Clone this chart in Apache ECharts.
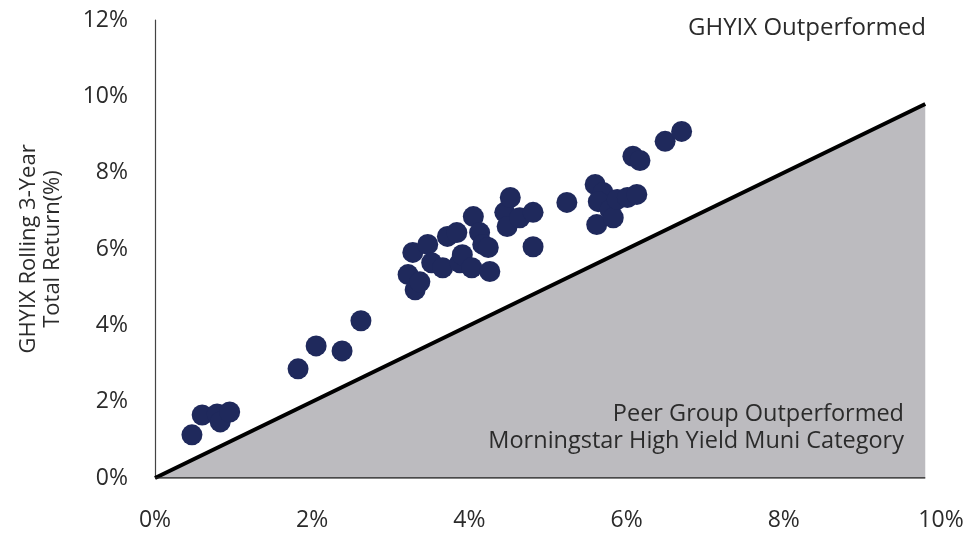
<!DOCTYPE html>
<html>
<head>
<meta charset="utf-8">
<script src="https://cdn.jsdelivr.net/npm/echarts@6/dist/echarts.min.js"></script>
<style>
  html, body { margin: 0; padding: 0; background: #ffffff; }
  #chart { width: 968px; height: 534px; }
</style>
</head>
<body>
<div id="chart"></div>
<script>
// Rolling 3-year total returns (%): peer group category (x) vs GHYIX (y)
const categoryReturns = [
  0.47, 0.60, 0.79, 0.83, 0.95,
  1.82, 2.05, 2.38, 2.62,
  3.22, 3.31, 3.37, 3.28, 3.47, 3.52, 3.66, 3.72, 3.84, 3.88, 3.91, 4.03,
  4.05, 4.13, 4.17, 4.24, 4.26, 4.45, 4.48, 4.52, 4.64, 4.81, 4.81,
  5.24, 5.60, 5.70, 5.64, 5.62, 5.79, 5.83, 5.88, 6.01, 6.13,
  6.08, 6.17, 6.49, 6.70
];
const fundReturns = [
  1.13, 1.65, 1.68, 1.47, 1.73,
  2.86, 3.46, 3.33, 4.12,
  5.33, 4.93, 5.14, 5.91, 6.12, 5.64, 5.51, 6.33, 6.43, 5.64, 5.85, 5.51,
  6.85, 6.43, 6.12, 6.04, 5.41, 6.96, 6.59, 7.35, 6.82, 6.96, 6.06,
  7.22, 7.69, 7.48, 7.24, 6.64, 7.03, 6.82, 7.30, 7.35, 7.43,
  8.43, 8.32, 8.82, 9.08
];
// Break-even diagonal (equal returns) and its base
const diagonal = [[0, 0], [9.8, 9.8]];
const baseLine = [[0, 0], [9.8, 0]];
const xTicks = [0, 2, 4, 6, 8, 10];
const yTicks = [0, 2, 4, 6, 8, 10, 12];

const points = categoryReturns.map((x, i) => [x, fundReturns[i]]);
const font = 'Open Sans';
const textColor = '#2b2b2b';

const chart = echarts.init(document.getElementById('chart'));
chart.setOption({
  animation: false,
  backgroundColor: '#ffffff',
  grid: { left: 155, right: 27, top: 20, bottom: 56, containLabel: false },
  xAxis: {
    type: 'value',
    min: xTicks[0],
    max: xTicks[xTicks.length - 1],
    interval: 2,
    axisLine: { show: false },
    axisTick: { show: false },
    splitLine: { show: false },
    axisLabel: {
      formatter: v => v + '%',
      color: textColor,
      fontFamily: font,
      fontSize: 23,
      margin: 31
    }
  },
  yAxis: {
    type: 'value',
    min: yTicks[0],
    max: yTicks[yTicks.length - 1],
    interval: 2,
    name: 'GHYIX Rolling 3-Year\nTotal Return(%)',
    nameLocation: 'middle',
    nameRotate: 90,
    nameGap: 90,
    nameTextStyle: { color: textColor, fontFamily: font, fontSize: 22, lineHeight: 24 },
    axisLine: { show: true, onZero: false, lineStyle: { color: '#444', width: 1.2 } },
    axisTick: { show: false },
    splitLine: { show: false },
    axisLabel: {
      formatter: v => v + '%',
      color: textColor,
      fontFamily: font,
      fontSize: 23,
      margin: 27
    }
  },
  series: [
    {
      type: 'line',
      data: diagonal,
      symbol: 'none',
      lineStyle: { color: '#000', width: 4 },
      areaStyle: { color: '#bcbbbf', opacity: 1 },
      z: 1
    },
    {
      type: 'line',
      data: baseLine,
      symbol: 'none',
      lineStyle: { color: '#222', width: 1.5 },
      z: 2
    },
    {
      type: 'scatter',
      data: points,
      symbolSize: 21,
      itemStyle: { color: '#1f295c', opacity: 1 },
      z: 5
    }
  ],
  graphic: {
    elements: [
      {
        type: 'text', right: 42, top: 16, z: 100,
        style: { text: 'GHYIX Outperformed', fill: textColor, font: '24px "Open Sans"' }
      },
      {
        type: 'text', right: 64, top: 402, z: 100,
        style: { text: 'Peer Group Outperformed', fill: textColor, font: '23.5px "Open Sans"' }
      },
      {
        type: 'text', right: 64, top: 429, z: 100,
        style: { text: 'Morningstar High Yield Muni Category', fill: textColor, font: '23.5px "Open Sans"' }
      }
    ]
  }
});
</script>
</body>
</html>
